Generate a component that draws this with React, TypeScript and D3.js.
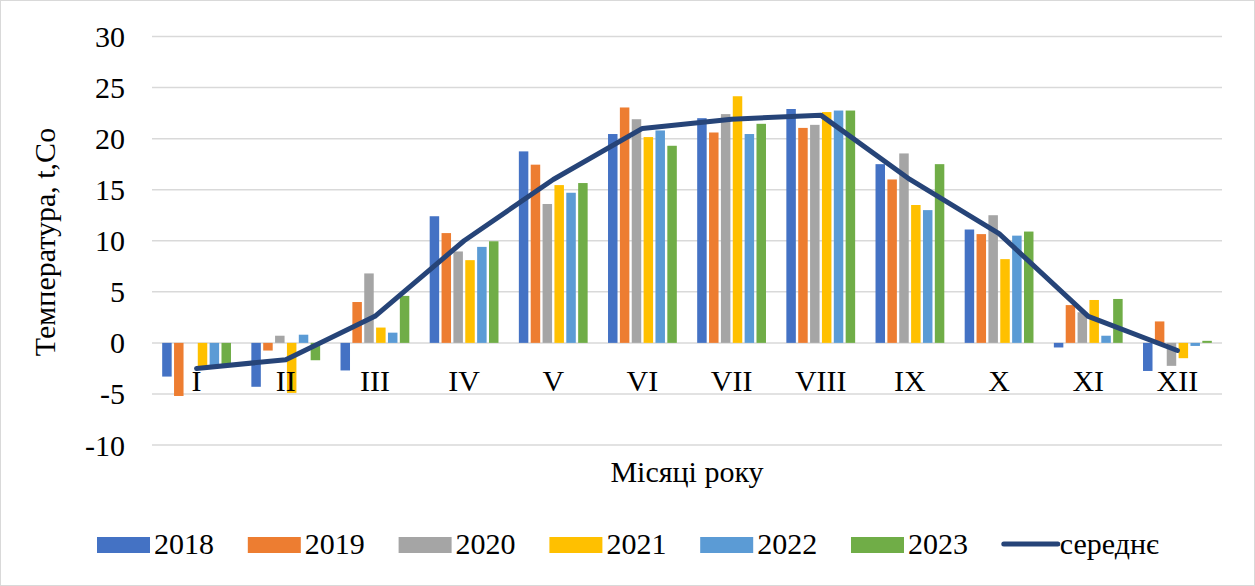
import React from "react";
import * as d3 from "d3";

const months = ["I", "II", "III", "IV", "V", "VI", "VII", "VIII", "IX", "X", "XI", "XII"];
const years = ["2018", "2019", "2020", "2021", "2022", "2023"];
const colors = ["#4472C4", "#ED7D31", "#A5A5A5", "#FFC000", "#5B9BD5", "#70AD47"];

const v2018 = [-3.3, -4.3, -2.7, 12.4, 18.75, 20.45, 22.0, 22.9, 17.5, 11.1, -0.45, -2.75];
const v2019 = [-5.2, -0.75, 4.0, 10.75, 17.45, 23.05, 20.6, 21.05, 16.0, 10.65, 3.7, 2.1];
const v2020 = [0, 0.7, 6.8, 8.95, 13.6, 21.9, 22.4, 21.35, 18.55, 12.5, 3.0, -2.25];
const v2021 = [-2.4, -4.9, 1.5, 8.1, 15.45, 20.15, 24.15, 22.6, 13.5, 8.2, 4.2, -1.5];
const v2022 = [-2.3, 0.8, 1.0, 9.4, 14.7, 20.8, 20.45, 22.75, 13.0, 10.5, 0.7, -0.3];
const v2023 = [-2.3, -1.7, 4.6, 9.95, 15.65, 19.3, 21.45, 22.75, 17.5, 10.9, 4.3, 0.2];
const average = [-2.5, -1.65, 2.6, 10.0, 16.0, 21.0, 21.9, 22.3, 16.0, 10.7, 2.6, -0.75];
const yTicks = [-10, -5, 0, 5, 10, 15, 20, 25, 30];

const seriesValues = [v2018, v2019, v2020, v2021, v2022, v2023];

const W = 1255;
const H = 586;
const FONT = "'Liberation Serif', 'Times New Roman', serif";
const FS = 30;

export default function App() {
  const x0 = d3.scaleBand<string>().domain(months).range([152, 1222]).padding(0);
  const bw = x0.bandwidth();
  const x1 = d3
    .scaleBand<string>()
    .domain(years)
    .range([bw / 2 - 34.4, bw / 2 + 34.4])
    .paddingInner(0.2)
    .paddingOuter(0);
  const y = d3.scaleLinear().domain([-10, 30]).range([445, 36.5]);

  const line = d3
    .line<number>()
    .x((_, i) => (x0(months[i]) as number) + bw / 2)
    .y((d) => y(d));

  const legendItems = [...years.map((yr, i) => ({ label: yr, color: colors[i], type: "bar" })), { label: "середнє", color: "#264478", type: "line" }];

  return (
    <div style={{ position: "absolute", left: 0, top: 0 }}>
      <svg width={W} height={H} style={{ display: "block" }}>
        <rect x={0.5} y={0.5} width={W - 1} height={H - 1} fill="#fff" stroke="#d9d9d9" strokeWidth={1} />
        {yTicks.map((t) => (
          <g key={t}>
            <line x1={152} x2={1222} y1={y(t)} y2={y(t)} stroke="#d9d9d9" strokeWidth={1.5} />
            <text x={125} y={y(t)} dy="0.35em" textAnchor="end" fontFamily={FONT} fontSize={FS} fill="#000">
              {t}
            </text>
          </g>
        ))}
        {seriesValues.map((vals, si) =>
          vals.map((v, mi) => {
            const xx = (x0(months[mi]) as number) + (x1(years[si]) as number);
            const y0 = y(0);
            const yv = y(v);
            return (
              <rect
                key={`${si}-${mi}`}
                x={xx}
                y={Math.min(y0, yv)}
                width={x1.bandwidth()}
                height={Math.abs(yv - y0)}
                fill={colors[si]}
              />
            );
          })
        )}
        {months.map((m) => (
          <text key={m} x={(x0(m) as number) + bw / 2} y={391} textAnchor="middle" fontFamily={FONT} fontSize={FS} fill="#000">
            {m}
          </text>
        ))}
        <path d={line(average) || ""} fill="none" stroke="#264478" strokeWidth={5} strokeLinejoin="round" strokeLinecap="round" />
        <text x={687} y={482} textAnchor="middle" fontFamily={FONT} fontSize={FS} fill="#000">
          Місяці року
        </text>
        <text
          transform={`translate(55,242) rotate(-90)`}
          textAnchor="middle"
          fontFamily={FONT}
          fontSize={FS}
          fill="#000"
        >
          Температура, t,Co
        </text>
        {legendItems.map((it, i) => {
          const lx = 97 + i * 150.8;
          return (
            <g key={it.label}>
              {it.type === "bar" ? (
                <rect x={lx} y={537} width={53} height={16} fill={it.color} />
              ) : (
                <line x1={lx + 2} x2={lx + 56} y1={544} y2={544} stroke={it.color} strokeWidth={5} strokeLinecap="round" />
              )}
              <text x={it.type === "bar" ? lx + 57 : lx + 58} y={554} fontFamily={FONT} fontSize={FS} fill="#000">
                {it.label}
              </text>
            </g>
          );
        })}
      </svg>
    </div>
  );
}
